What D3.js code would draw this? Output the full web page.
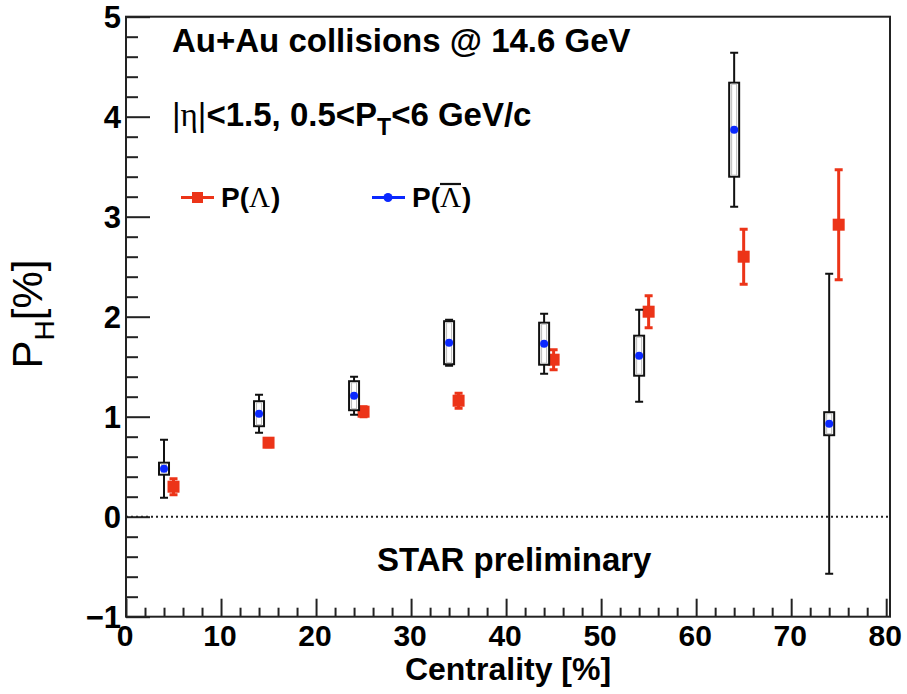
<html>
<head>
<script src="https://cdn.jsdelivr.net/npm/d3@7/dist/d3.min.js"></script>
<style>
    body {
        margin: 0;
        background: #fff;
    }
    svg text {
        font-family: 'Liberation Sans', Arial, sans-serif;
    }
    .bold {
        font-weight: bold;
    }
</style>
</head>
<body>

<svg id='the-plot' width=907 height=694></svg>

<script>

    // Lambda (red squares, stat errors only)
    var centLam = [5, 15, 25, 35, 45, 55, 65, 75];
    var polLam  = [0.30, 0.74, 1.05, 1.16, 1.57, 2.05, 2.60, 2.92];
    var errLam  = [0.08, 0.04, 0.05, 0.075, 0.10, 0.16, 0.275, 0.55];

    // anti-Lambda (blue dots, stat errors + systematic boxes)
    var centBar = [4, 14, 24, 34, 44, 54, 64, 74];
    var polBar  = [0.48, 1.03, 1.21, 1.74, 1.73, 1.61, 3.87, 0.93];
    var statBar = [0.29, 0.19, 0.19, 0.23, 0.30, 0.46, 0.77, 1.50];
    var sysBar  = [0.06, 0.125, 0.145, 0.215, 0.21, 0.20, 0.47, 0.115];

    var xTicks = [0, 10, 20, 30, 40, 50, 60, 70, 80];
    var yTicks = [-1, 0, 1, 2, 3, 4, 5];

    var red = '#ec3418',
        blue = '#0a28ff';

    var svg = d3.select('#the-plot');

    // frame edges (note: 'top' is taken by window.top)
    var fLeft = 126, fRight = 890, fTop = 16.7, fBottom = 616.7;

    var x = d3.scaleLinear()
            .domain([0, 80.4])
            .range([fLeft, fRight]);

    var y = d3.scaleLinear()
            .domain([-1, 5])
            .range([fBottom, fTop]);

    drawFrame();
    drawLambda();
    drawAntiLambda();
    drawTexts();

    function drawFrame() {

        // zero line
        svg.append('line')
            .attr('x1', fLeft).attr('x2', fRight)
            .attr('y1', y(0)).attr('y2', y(0))
            .attr('stroke', '#222')
            .attr('stroke-width', 2)
            .attr('stroke-dasharray', '2,3');

        svg.append('rect')
            .attr('x', fLeft).attr('y', fTop)
            .attr('width', fRight - fLeft)
            .attr('height', fBottom - fTop)
            .attr('fill', 'none')
            .attr('stroke', '#222')
            .attr('stroke-width', 2);

        // ticks pointing inwards
        var xAxis = d3.axisTop(x)
            .tickValues(d3.range(0, 81, 2))
            .tickSize(9)
            .tickFormat('');
        svg.append('g')
            .attr('transform', 'translate(0,' + fBottom + ')')
            .call(xAxis)
            .call(function(g) {
                g.select('.domain').remove();
                g.selectAll('.tick line')
                    .attr('stroke', '#222')
                    .attr('stroke-width', 2)
                    .attr('y2', function(d) { return d % 10 === 0 ? -18 : -9; });
            });

        var yAxis = d3.axisRight(y)
            .tickValues(d3.range(0, 31).map(function(i) { return -1 + i * 0.2; }))
            .tickSize(12)
            .tickFormat('');
        svg.append('g')
            .attr('transform', 'translate(' + fLeft + ',0)')
            .call(yAxis)
            .call(function(g) {
                g.select('.domain').remove();
                g.selectAll('.tick line')
                    .attr('stroke', '#222')
                    .attr('stroke-width', 2)
                    .attr('x2', function(d) { return Math.abs(d - Math.round(d)) < 1e-6 ? 24 : 12; });
            });

        svg.selectAll('.xlab')
            .data(xTicks)
          .enter()
            .append('text')
            .attr('class', 'xlab bold')
            .attr('x', function(d) { return x(d) - 1; })
            .attr('y', 646)
            .attr('text-anchor', 'middle')
            .attr('font-size', 30)
            .text(function(d) { return d; });

        svg.selectAll('.ylab')
            .data(yTicks)
          .enter()
            .append('text')
            .attr('class', 'ylab bold')
            .attr('x', 121)
            .attr('y', function(d) { return y(d); })
            .attr('dy', '0.36em')
            .attr('text-anchor', 'end')
            .attr('font-size', 31)
            .text(function(d) { return d < 0 ? '\u2212' + (-d) : d; });

        svg.append('text')
            .attr('class', 'bold')
            .attr('x', 508)
            .attr('y', 680)
            .attr('text-anchor', 'middle')
            .attr('font-size', 32)
            .text('Centrality [%]');

        var yt = svg.append('text')
            .attr('transform', 'translate(42,314) rotate(-90)')
            .attr('text-anchor', 'middle')
            .attr('font-size', 42);
        yt.append('tspan').text('P');
        yt.append('tspan').attr('font-size', 28).attr('dy', 12).text('H');
        yt.append('tspan').attr('dy', -12).text('[%]');
    }

    function drawLambda() {

        var pts = centLam.map(function(c, i) {
            return {c: c, v: polLam[i], e: errLam[i]};
        });

        var g = svg.append('g');

        g.selectAll('.lam-err')
            .data(pts)
          .enter()
            .append('path')
            .attr('class', 'lam-err')
            .attr('fill', 'none')
            .attr('stroke', red)
            .attr('stroke-width', 3)
            .attr('d', function(d) {
                var cx = x(d.c), y1 = y(d.v + d.e), y2 = y(d.v - d.e);
                return 'M' + cx + ',' + y1 + 'V' + y2 +
                       'M' + (cx - 4) + ',' + y1 + 'H' + (cx + 4) +
                       'M' + (cx - 4) + ',' + y2 + 'H' + (cx + 4);
            });

        g.selectAll('.lam-pt')
            .data(pts)
          .enter()
            .append('rect')
            .attr('class', 'lam-pt')
            .attr('x', function(d) { return x(d.c) - 6; })
            .attr('y', function(d) { return y(d.v) - 6; })
            .attr('width', 12)
            .attr('height', 12)
            .attr('fill', red);
    }

    function drawAntiLambda() {

        var pts = centBar.map(function(c, i) {
            return {c: c, v: polBar[i], s: statBar[i], sys: sysBar[i]};
        });

        var g = svg.append('g');

        g.selectAll('.bar-err')
            .data(pts)
          .enter()
            .append('path')
            .attr('class', 'bar-err')
            .attr('fill', 'none')
            .attr('stroke', '#111')
            .attr('stroke-width', 2)
            .attr('d', function(d) {
                var cx = x(d.c), y1 = y(d.v + d.s), y2 = y(d.v - d.s);
                return 'M' + cx + ',' + y1 + 'V' + y2 +
                       'M' + (cx - 4) + ',' + y1 + 'H' + (cx + 4) +
                       'M' + (cx - 4) + ',' + y2 + 'H' + (cx + 4);
            });

        // systematic boxes
        g.selectAll('.bar-sys')
            .data(pts)
          .enter()
            .append('rect')
            .attr('class', 'bar-sys')
            .attr('x', function(d) { return x(d.c) - 5; })
            .attr('y', function(d) { return y(d.v + d.sys); })
            .attr('width', 10)
            .attr('height', function(d) { return y(d.v - d.sys) - y(d.v + d.sys); })
            .attr('fill', '#fff')
            .attr('stroke', '#111')
            .attr('stroke-width', 2);

        g.selectAll('.bar-sys-in')
            .data(pts)
          .enter()
            .append('rect')
            .attr('class', 'bar-sys-in')
            .attr('x', function(d) { return x(d.c) - 2.5; })
            .attr('y', function(d) { return y(d.v + d.sys) + 1.5; })
            .attr('width', 5)
            .attr('height', function(d) { return Math.max(0, y(d.v - d.sys) - y(d.v + d.sys) - 3); })
            .attr('fill', 'none')
            .attr('stroke', '#bbb')
            .attr('stroke-width', 1);

        g.selectAll('.bar-pt')
            .data(pts)
          .enter()
            .append('circle')
            .attr('class', 'bar-pt')
            .attr('cx', function(d) { return x(d.c); })
            .attr('cy', function(d) { return y(d.v); })
            .attr('r', 4)
            .attr('fill', blue);
    }

    function drawTexts() {

        svg.append('text')
            .attr('class', 'bold')
            .attr('x', 172)
            .attr('y', 52)
            .attr('font-size', 33)
            .text('Au+Au collisions @ 14.6 GeV');

        var t2 = svg.append('text')
            .attr('class', 'bold')
            .attr('x', 172)
            .attr('y', 126)
            .attr('font-size', 33);
        t2.append('tspan').attr('font-weight', 'normal').text('|');
        t2.append('tspan').attr('font-weight', 'normal')
            .style('font-family', "'Liberation Serif', serif").text('\u03b7');
        t2.append('tspan').attr('font-weight', 'normal').text('|');
        t2.append('tspan').text('<1.5, 0.5<P');
        t2.append('tspan').attr('font-size', 23).attr('dy', 9).text('T');
        t2.append('tspan').attr('dy', -9).text('<6 GeV/c');

        svg.append('text')
            .attr('class', 'bold')
            .attr('x', 377)
            .attr('y', 571)
            .attr('font-size', 33)
            .text('STAR preliminary');

        // legend
        legendEntry(181, 197.5, red, false);
        legendEntry(372, 197.5, blue, true);
    }

    function legendEntry(x0, y0, color, anti) {

        svg.append('line')
            .attr('x1', x0).attr('x2', x0 + 33)
            .attr('y1', y0).attr('y2', y0)
            .attr('stroke', color)
            .attr('stroke-width', 3);

        if (anti) {
            svg.append('circle')
                .attr('cx', x0 + 16).attr('cy', y0).attr('r', 4.5)
                .attr('fill', color);
        } else {
            svg.append('rect')
                .attr('x', x0 + 11).attr('y', y0 - 5.5)
                .attr('width', 11).attr('height', 11)
                .attr('fill', color);
        }

        var tx = x0 + 40, ty = 207;

        var p = svg.append('text')
            .attr('class', 'bold')
            .attr('x', tx).attr('y', ty)
            .attr('font-size', 28)
            .text('P(');
        var w1 = p.node().getComputedTextLength();

        var lam = svg.append('text')
            .attr('x', tx + w1).attr('y', ty)
            .attr('font-size', 29)
            .style('font-family', "'Liberation Serif', serif")
            .text('\u039b');
        var w2 = lam.node().getComputedTextLength();

        svg.append('text')
            .attr('class', 'bold')
            .attr('x', tx + w1 + w2 + 1).attr('y', ty)
            .attr('font-size', 28)
            .text(')');

        if (anti) {
            svg.append('line')
                .attr('x1', tx + w1).attr('x2', tx + w1 + w2)
                .attr('y1', 184).attr('y2', 184)
                .attr('stroke', '#111')
                .attr('stroke-width', 2.2);
        }
    }

</script>

</body>
</html>
